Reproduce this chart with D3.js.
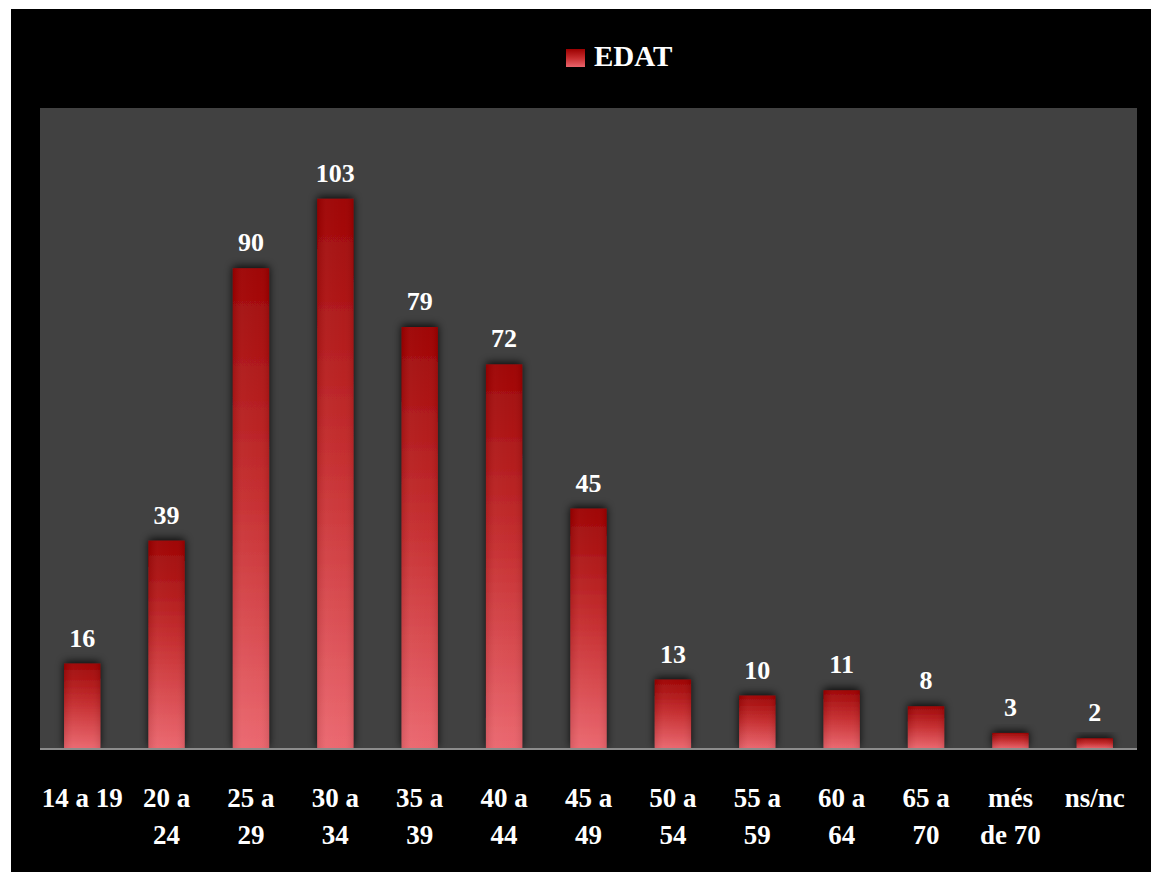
<!DOCTYPE html>
<html>
<head>
<meta charset="utf-8">
<script src="https://cdn.jsdelivr.net/npm/d3@7"></script>
<style>
  html, body { margin: 0; padding: 0; background: #ffffff; }
  svg { display: block; }
</style>
</head>
<body>
<svg id="chart" width="1151" height="872"></svg>
<script>
// ---- data ----
const categories = ["14 a 19", "20 a 24", "25 a 29", "30 a 34", "35 a 39", "40 a 44", "45 a 49",
                    "50 a 54", "55 a 59", "60 a 64", "65 a 70", "més de 70", "ns/nc"];
const tickLabels = [["14 a 19"], ["20 a", "24"], ["25 a", "29"], ["30 a", "34"], ["35 a", "39"],
                    ["40 a", "44"], ["45 a", "49"], ["50 a", "54"], ["55 a", "59"], ["60 a", "64"],
                    ["65 a", "70"], ["més", "de 70"], ["ns/nc"]];
const values = [16, 39, 90, 103, 79, 72, 45, 13, 10, 11, 8, 3, 2];
const seriesName = "EDAT";

// ---- layout ----
const W = 1151, H = 872;
const plot = { left: 40, right: 1137, top: 108, bottom: 749 };
const font = "'Liberation Serif', 'Times New Roman', serif";

const svg = d3.select("#chart");
const defs = svg.append("defs");

const grad = defs.append("linearGradient").attr("id", "barGrad")
  .attr("x1", 0).attr("y1", 0).attr("x2", 0).attr("y2", 1);
grad.append("stop").attr("offset", "0%").attr("stop-color", "#9c0000");
grad.append("stop").attr("offset", "50%").attr("stop-color", "#c62c2e");
grad.append("stop").attr("offset", "100%").attr("stop-color", "#ea646c");

const hgrad = defs.append("linearGradient").attr("id", "barSheen")
  .attr("x1", 0).attr("y1", 0).attr("x2", 1).attr("y2", 0);
hgrad.append("stop").attr("offset", "0%").attr("stop-color", "#000").attr("stop-opacity", 0.08);
hgrad.append("stop").attr("offset", "25%").attr("stop-color", "#fff").attr("stop-opacity", 0.05);
hgrad.append("stop").attr("offset", "75%").attr("stop-color", "#fff").attr("stop-opacity", 0.03);
hgrad.append("stop").attr("offset", "100%").attr("stop-color", "#000").attr("stop-opacity", 0.08);

const shadow = defs.append("filter").attr("id", "shadow")
  .attr("x", "-50%").attr("y", "-50%").attr("width", "200%").attr("height", "200%");
shadow.append("feDropShadow").attr("dx", 0).attr("dy", -2).attr("stdDeviation", 4)
  .attr("flood-color", "#000").attr("flood-opacity", 0.85);

// black frame
svg.append("rect").attr("x", 11).attr("y", 9).attr("width", W - 11).attr("height", H - 9)
  .attr("fill", "#000");

// plot area
svg.append("rect").attr("x", plot.left).attr("y", plot.top)
  .attr("width", plot.right - plot.left).attr("height", plot.bottom - plot.top)
  .attr("fill", "#414141");

const x = d3.scaleBand().domain(categories).range([plot.left, plot.right])
  .paddingInner(0.57).paddingOuter(0.285);
const y = d3.scaleLinear().domain([0, 120]).range([plot.bottom, plot.top]);

// bars
const bars = svg.append("g");
bars.selectAll("rect.bar").data(values).join("rect")
  .attr("class", "bar")
  .attr("x", (d, i) => x(categories[i]))
  .attr("y", d => y(d))
  .attr("width", x.bandwidth())
  .attr("height", d => y(0) - y(d))
  .attr("fill", "url(#barGrad)")
  .attr("filter", "url(#shadow)");
bars.selectAll("rect.sheen").data(values).join("rect")
  .attr("class", "sheen")
  .attr("x", (d, i) => x(categories[i]))
  .attr("y", d => y(d))
  .attr("width", x.bandwidth())
  .attr("height", d => y(0) - y(d))
  .attr("fill", "url(#barSheen)");

// axis line
svg.append("line").attr("x1", plot.left).attr("x2", plot.right)
  .attr("y1", plot.bottom).attr("y2", plot.bottom)
  .attr("stroke", "#8c8c8c").attr("stroke-width", 2);

// value labels
svg.append("g").selectAll("text").data(values).join("text")
  .attr("x", (d, i) => x(categories[i]) + x.bandwidth() / 2)
  .attr("y", d => y(d) - 17)
  .attr("text-anchor", "middle")
  .attr("font-family", font).attr("font-weight", "bold").attr("font-size", 26)
  .attr("fill", "#fff")
  .text(d => d);

// category labels
const xl = svg.append("g").selectAll("text").data(tickLabels).join("text")
  .attr("text-anchor", "middle")
  .attr("font-family", font).attr("font-weight", "bold").attr("font-size", 27)
  .attr("fill", "#fff");
xl.each(function(lines, i) {
  const cx = x(categories[i]) + x.bandwidth() / 2;
  d3.select(this).selectAll("tspan").data(lines).join("tspan")
    .attr("x", cx)
    .attr("y", (l, j) => 807 + j * 37)
    .text(l => l);
});

// legend
const lg = svg.append("g");
lg.append("rect").attr("x", 566).attr("y", 49).attr("width", 19).attr("height", 18)
  .attr("fill", "url(#barGrad)");
lg.append("text").attr("x", 594).attr("y", 66)
  .attr("font-family", font).attr("font-weight", "bold").attr("font-size", 29)
  .attr("fill", "#fff").text(seriesName);
</script>
</body>
</html>
